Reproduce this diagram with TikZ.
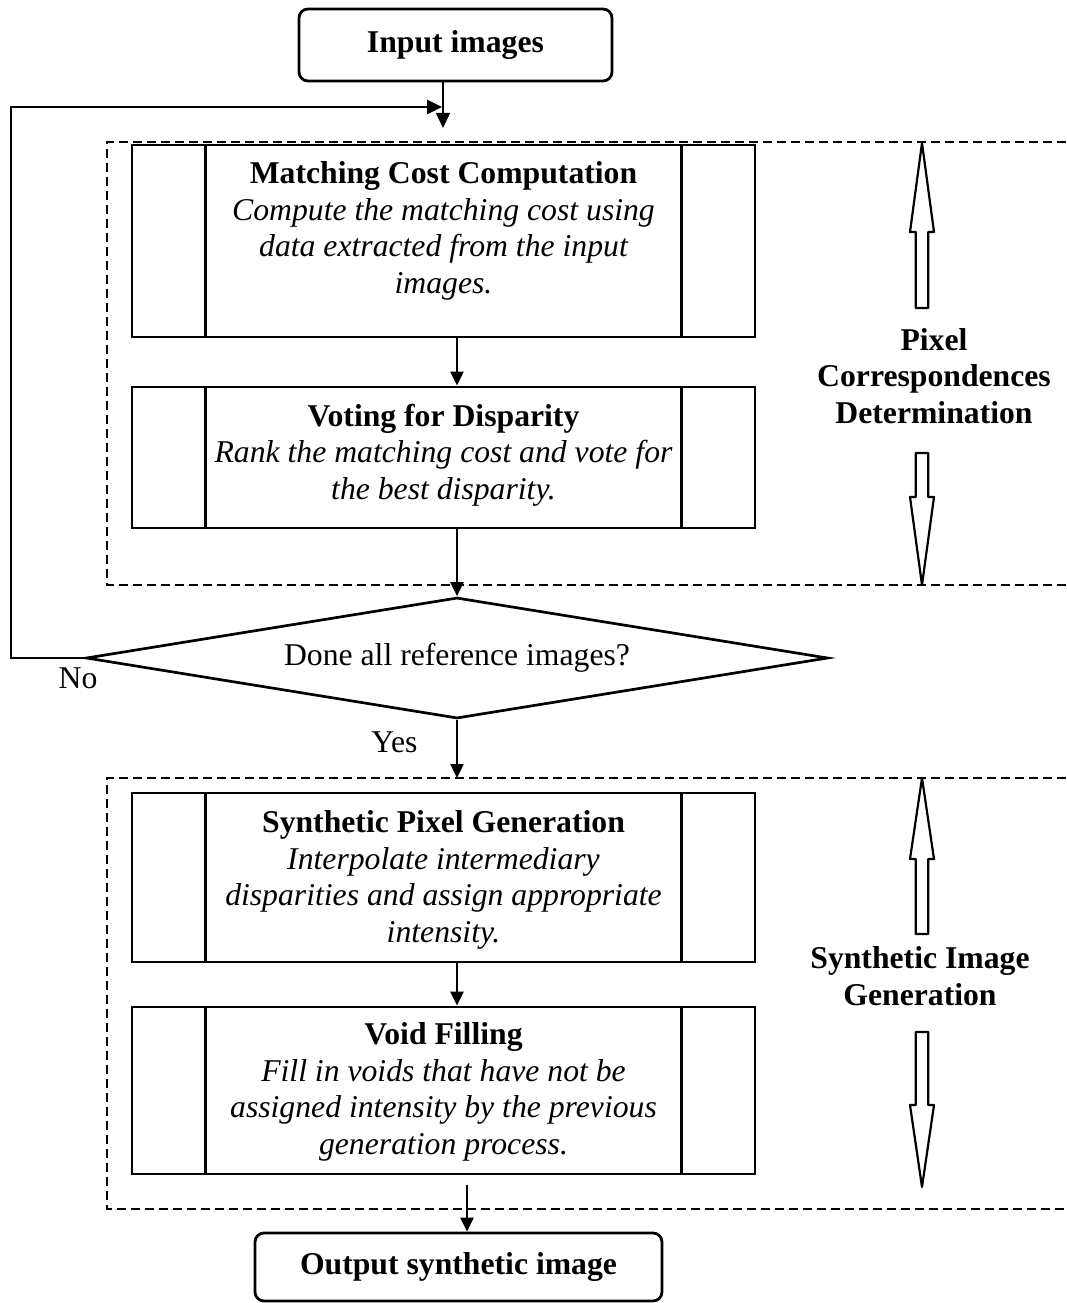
\documentclass[tikz,border=0pt]{standalone}
\usepackage{fontspec}
\setmainfont{Liberation Serif}
\usetikzlibrary{arrows.meta,shapes.geometric}

\newcommand\figfont{\fontsize{31.7}{36.5}\selectfont}
% hollow block arrow: x, tip y, head-base y, shaft-end y
\newcommand\hollowarrow[4]{%
  \draw[line width=2.2pt, line join=round]
    (#1,#2) -- (#1+12,#3) -- (#1+6.3,#3) -- (#1+6.3,#4) --
    (#1-6.3,#4) -- (#1-6.3,#3) -- (#1-12,#3) -- cycle;}

\begin{document}
\begin{tikzpicture}[x=1pt,y=-1pt,
  lab/.style={font=\figfont, align=center, inner sep=0pt},
  blab/.style={font=\figfont\bfseries, align=center, inner sep=0pt},
  procbox/.style={draw, line width=2.8pt, inner sep=0pt, minimum width=623pt},
  divider/.style={line width=2.3pt},
  termbox/.style={draw, line width=2.8pt, rounded corners=9pt, inner sep=0pt,
                  font=\figfont\bfseries},
  decision/.style={draw, diamond, aspect=6, line width=2.7pt, inner sep=0pt,
                   font=\figfont},
  flow/.style={line width=2.4pt, -{Triangle[length=14pt,width=13pt]}},
  thinflow/.style={line width=1.4pt, -{Triangle[length=15pt,width=14pt]}},
  loopline/.style={line width=2.7pt, -{Triangle[length=15pt,width=14pt]}},
  group/.style={line width=2.5pt, dash pattern=on 9pt off 5pt}]

\useasboundingbox (0,0) rectangle (1066,1303);

% terminals
\node[termbox, minimum width=313pt, minimum height=72pt] (in) at (455.5,45) {Input images};
\node[termbox, minimum width=407pt, minimum height=68pt] (out) at (458.5,1267) {Output synthetic image};

% stage groups
\draw[group] (1066,142) -- (107,142) -- (107,585) -- (1066,585);
\draw[group, line width=2.1pt] (1066,778) -- (107,778) -- (107,1209) -- (1066,1209);

% process boxes
\node[procbox, minimum height=192pt] (b1) at (443.5,241) {};
\node[procbox, minimum height=141pt] (b2) at (443.5,457.5) {};
\node[procbox, minimum height=169pt] (b3) at (443.5,877.5) {};
\node[procbox, minimum height=167pt] (b4) at (443.5,1090.5) {};
\foreach \b in {b1,b2,b3,b4}{
  \draw[divider] ([xshift=75pt]\b.north west) -- ([xshift=75pt]\b.south west);
  \draw[divider] ([xshift=-75pt]\b.north east) -- ([xshift=-75pt]\b.south east);
}

\node[lab] (t1) at (443.5,231) {{\bfseries Matching Cost Computation}\\
  {\itshape Compute the matching cost using}\\
  {\itshape data extracted from the input}\\
  {\itshape images.}};
\node[lab] (t2) at (443.5,455) {{\bfseries Voting for Disparity}\\
  {\itshape Rank the matching cost and vote for}\\
  {\itshape the best disparity.}};
\node[lab] (t3) at (443.5,880) {{\bfseries Synthetic Pixel Generation}\\
  {\itshape Interpolate intermediary}\\
  {\itshape disparities and assign appropriate}\\
  {\itshape intensity.}};
\node[lab] (t4) at (443.5,1092) {{\bfseries Void Filling}\\
  {\itshape Fill in voids that have not be}\\
  {\itshape assigned intensity by the previous}\\
  {\itshape generation process.}};

% decision
\node[decision, minimum width=742pt, minimum height=121pt] (dia) at (457,658) {Done all reference images?};
\node[lab] (no) at (78,678) {No};
\node[lab] (yes) at (394.5,742) {Yes};

% connectors
\coordinate (entry) at (443,128);
\coordinate (merge) at (442,107);
\coordinate (loopcorner) at (11,658);
\coordinate (g2in) at (457,778);
\coordinate (outsrc) at (467,1185);

\draw[thinflow] (entry |- in.south) -- (entry);
\draw[loopline] (dia.west) -- (loopcorner) |- (merge);
\draw[flow] (b1.south -| dia.north) -- (b2.north -| dia.north);
\draw[flow] (b2.south -| dia.north) -- (dia.north);
\draw[flow] (dia.south) -- (g2in);
\draw[flow] (b3.south -| dia.north) -- (b4.north -| dia.north);
\draw[flow] (outsrc) -- (outsrc |- out.north);

% stage labels with block arrows
\node[blab] (pcd) at (934,376) {Pixel\\Correspondences\\Determination};
\node[blab] (sig) at (920,976) {Synthetic Image\\Generation};
\hollowarrow{922}{143}{232}{308}
\hollowarrow{922}{585}{497}{453}
\hollowarrow{922}{778}{859}{934}
\hollowarrow{922}{1187}{1105}{1032}

\end{tikzpicture}
\end{document}
